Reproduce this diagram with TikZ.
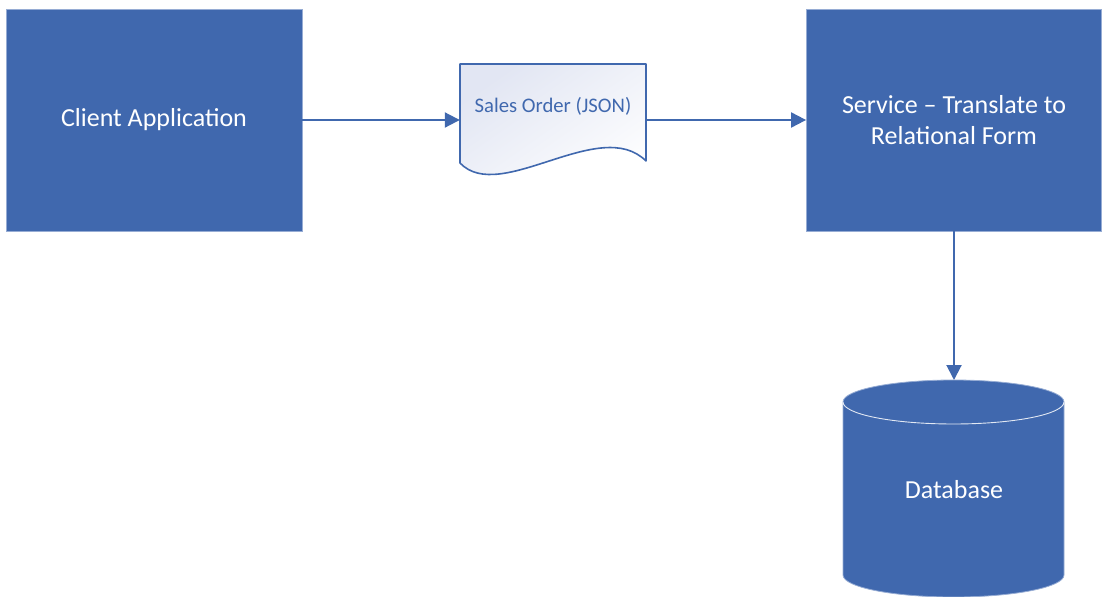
\documentclass[tikz,border=0pt]{standalone}
\usepackage{fontspec}
\setmainfont{Carlito}
\usetikzlibrary{arrows.meta}
\definecolor{boxblue}{RGB}{64,104,174}
\definecolor{edgeblue}{RGB}{150,172,212}
\definecolor{doctint}{RGB}{226,230,243}
\tikzset{
  procbox/.style={rectangle, fill=boxblue, draw=edgeblue, line width=0.8pt,
    inner sep=0pt, text=white, font=\fontsize{26}{31.5}\selectfont, align=center},
  flow/.style={draw=boxblue, line width=2pt, -{Triangle[length=15pt,width=15pt]}},
  doctext/.style={text=boxblue, font=\fontsize{20.7}{25}\selectfont, inner sep=0pt},
  dbtext/.style={text=white, font=\fontsize{26}{31.5}\selectfont, inner sep=0pt}
}
\begin{document}
\begin{tikzpicture}[x=1pt, y=-1pt]
  \useasboundingbox (0,0) rectangle (1103,597);

  % process boxes
  \node[procbox, minimum width=296pt, minimum height=222pt] (client) at (154,120) {Client Application};
  \node[procbox, minimum width=295pt, minimum height=222pt] (service) at (954,120) {Service -- Translate to\\Relational Form};

  % document shape with wavy bottom
  \shade[top color=doctint, bottom color=white, shading angle=35]
    (460,64) -- (646,64) -- (646,161)
    .. controls (600,115) and (500,205) .. (460,163) -- cycle;
  \draw[boxblue, line width=1.6pt, line join=round]
    (460,64) -- (646,64) -- (646,161)
    .. controls (600,115) and (500,205) .. (460,163) -- cycle;
  \node[inner sep=0pt, minimum width=186pt, minimum height=112pt] (doc) at (553,120) {};
  \node[doctext] (doclabel) at (553,106) {Sales Order (JSON)};

  % database cylinder
  \fill[boxblue] (843,402) -- (843,575) arc[start angle=180, end angle=360, x radius=110.5pt, y radius=22pt]
    -- (1064,402) arc[start angle=0, end angle=180, x radius=110.5pt, y radius=22pt] -- cycle;
  \draw[edgeblue, line width=0.8pt] (843,402) -- (843,575) arc[start angle=180, end angle=360, x radius=110.5pt, y radius=22pt]
    -- (1064,402) arc[start angle=0, end angle=180, x radius=110.5pt, y radius=22pt];
  \draw[white!85!boxblue, line width=0.9pt] (843,402) arc[start angle=180, end angle=360, x radius=110.5pt, y radius=22pt];
  \coordinate (dbtop) at (954,380);
  \node[dbtext] (db) at (954,490) {Database};

  % connectors
  \draw[flow] (client.east) -- (doc.west);
  \draw[flow] (doc.east) -- (service.west);
  \draw[flow] (service.south) -- (dbtop);
\end{tikzpicture}
\end{document}
